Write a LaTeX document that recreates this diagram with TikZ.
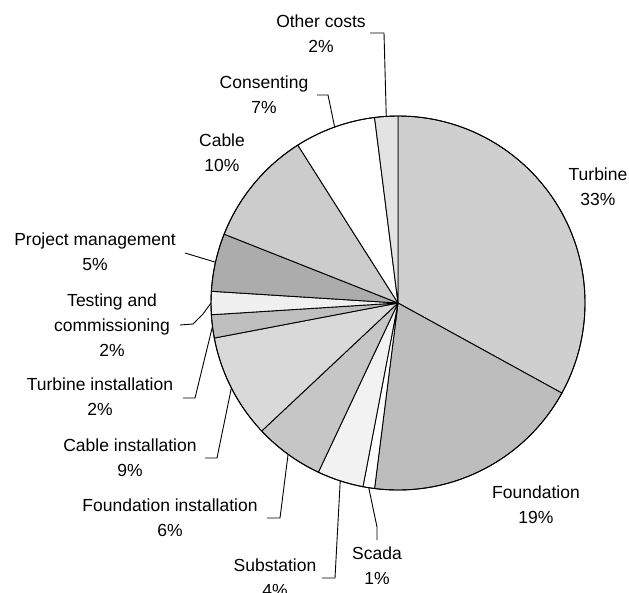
\documentclass[tikz,border=0pt]{standalone}
\usepackage{fontspec}
\setmainfont{Liberation Sans}
\begin{document}
\begin{tikzpicture}[x=1pt,y=-1pt,
  lbl/.style={align=center,inner sep=0pt,font=\fontsize{17.5}{25}\selectfont},
  leader/.style={draw=black,line width=0.9pt},
  slc/.style={draw=black,line width=0.9pt,line join=round}]
\useasboundingbox (0,0) rectangle (629,592);
\coordinate (c) at (398,303);
\newcommand\pieslice[3]{\filldraw[slc,fill=#3] (c) -- ++(#1:187) arc[start angle=#1,end angle=#2,radius=187] -- cycle;}
% slices (tikz angle = 3.6*cumulative% - 90, y axis points down)
\pieslice{-90}{28.8}{gray!38}     % Turbine
\pieslice{28.8}{97.2}{gray!52}    % Foundation
\pieslice{97.2}{100.8}{white}     % Scada
\pieslice{100.8}{115.2}{gray!10}  % Substation
\pieslice{115.2}{136.8}{gray!45}  % Foundation installation
\pieslice{136.8}{169.2}{gray!30}  % Cable installation
\pieslice{169.2}{176.4}{gray!50}  % Turbine installation
\pieslice{176.4}{183.6}{gray!12}  % Testing and commissioning
\pieslice{183.6}{201.6}{gray!65}  % Project management
\pieslice{201.6}{237.6}{gray!40}  % Cable
\pieslice{237.6}{262.8}{white}    % Consenting
\pieslice{262.8}{270}{gray!22}    % Other costs
\draw[line width=0.9pt] (c) circle[radius=187];
% rim points for leaders
\path (c) ++(266.4:187) coordinate (rOther);
\path (c) ++(250.2:187) coordinate (rCons);
\path (c) ++(99:187) coordinate (rScada);
\path (c) ++(108:187) coordinate (rSub);
\path (c) ++(126:187) coordinate (rFI);
\path (c) ++(153:187) coordinate (rCI);
\path (c) ++(172.8:187) coordinate (rTI);
\path (c) ++(180:187) coordinate (rTest);
\path (c) ++(192.6:187) coordinate (rPM);
% labels
\node[lbl] (lOther) at (321,34) {Other costs\\2\%};
\node[lbl] (lCons) at (264,95) {Consenting\\7\%};
\node[lbl] (lCable) at (222,153) {Cable\\10\%};
\node[lbl] (lTurb) at (598,187) {Turbine\\33\%};
\node[lbl] (lFound) at (536,505) {Foundation\\19\%};
\node[lbl] (lScada) at (377,566) {Scada\\1\%};
\node[lbl] (lSub) at (275,578) {Substation\\4\%};
\node[lbl] (lFI) at (170,518) {Foundation installation\\6\%};
\node[lbl] (lCI) at (130,458) {Cable installation\\9\%};
\node[lbl] (lTI) at (100,397) {Turbine installation\\2\%};
\node[lbl] (lTest) at (112,325) {Testing and\\commissioning\\2\%};
\node[lbl] (lPM) at (95,252) {Project management\\5\%};
% leader ends
\coordinate (eOther) at (370,33);
\coordinate (eCons) at (317,95);
\coordinate (eSub) at (322,578);
\coordinate (eFI) at (267,518);
\coordinate (eCI) at (205,458);
\coordinate (eTI) at (183,398);
\coordinate (eTest) at (180,325);
\coordinate (ePM) at (185,253);
\coordinate (eScada) at (377,540);
% leaders
\draw[leader] (eOther) -- (384,33) -- (rOther);
\draw[leader] (eCons) -- (328,95) -- (rCons);
\draw[leader] (rScada) -- (373,508) -- (377,527) -- (eScada);
\draw[leader] (rSub) -- (335,578) -- (eSub);
\draw[leader] (rFI) -- (280,518) -- (eFI);
\draw[leader] (rCI) -- (217,458) -- (eCI);
\draw[leader] (eTI) -- (195,398) -- (rTI);
\draw[leader] (eTest) -- (193,324) -- (203,314) -- (rTest);
\draw[leader] (ePM) -- (rPM);
\end{tikzpicture}
\end{document}
